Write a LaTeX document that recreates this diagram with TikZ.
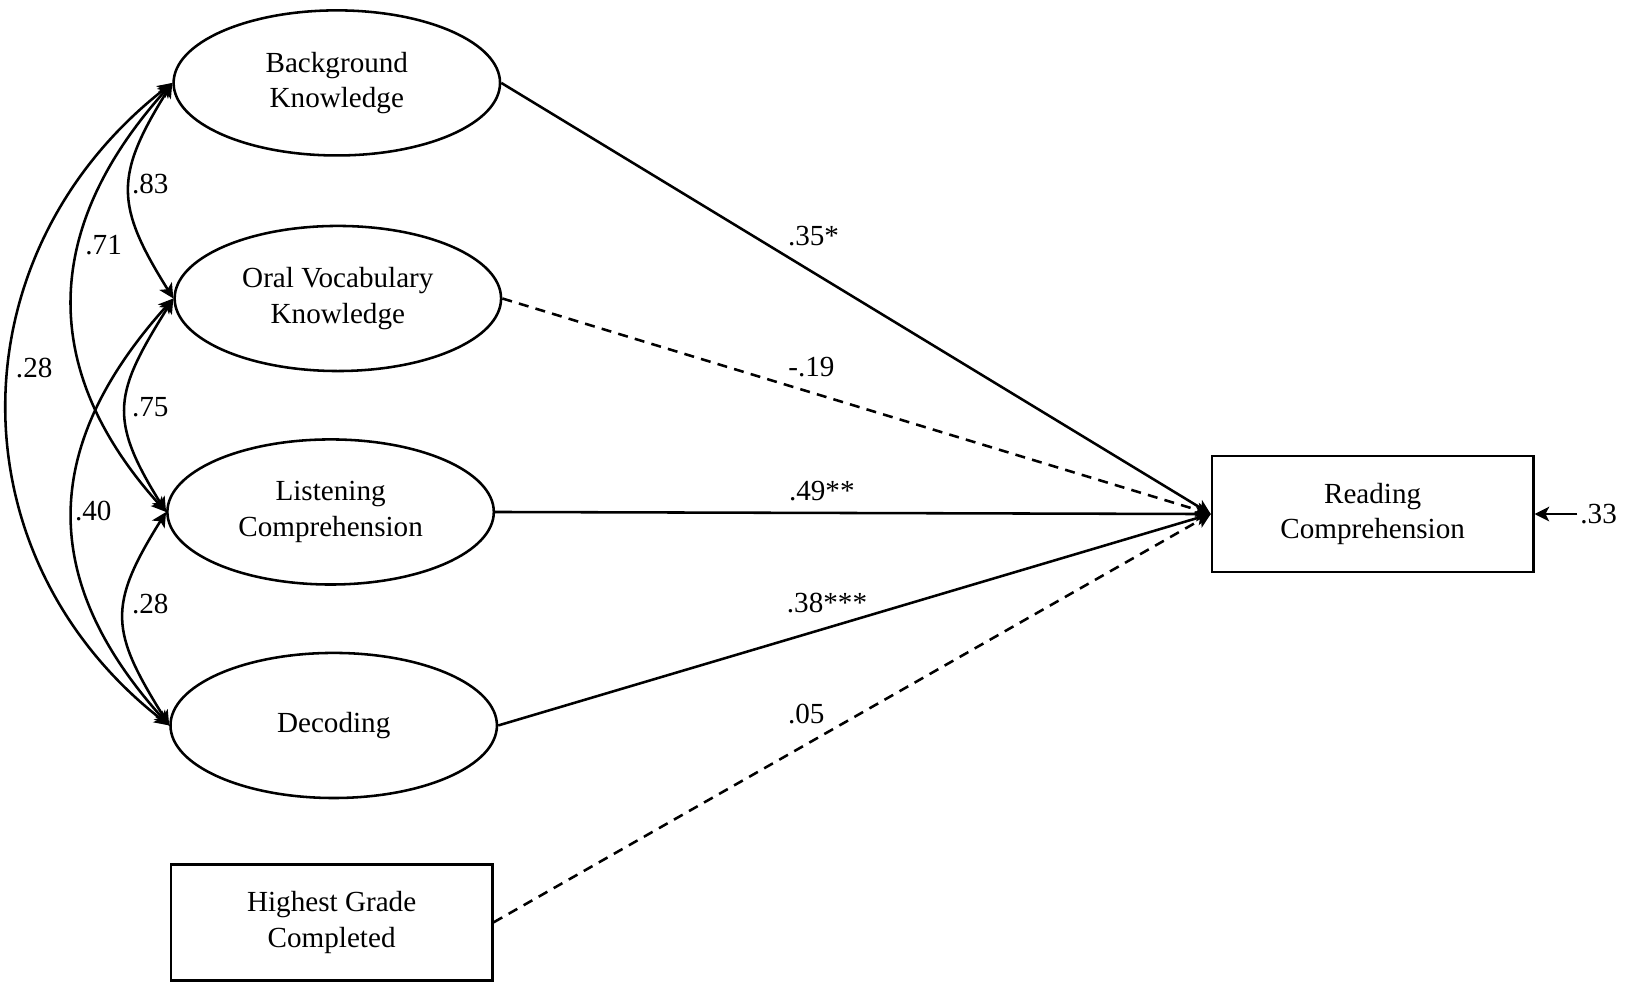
\documentclass[tikz,border=0pt]{standalone}
\usepackage{fontspec}
\setmainfont{Liberation Serif}
\usetikzlibrary{shapes,arrows.meta,positioning,calc}

\begin{document}
\begin{tikzpicture}[
    line width=1.4pt,
    >={Stealth[length=8pt,width=8pt,inset=2pt]},
    every node/.style={font=\fontsize{16}{19.5}\selectfont},
    factor/.style={draw, ellipse, minimum width=6.3cm, minimum height=2.8cm, align=center, inner sep=0pt},
    obs/.style={draw, rectangle, minimum width=6.2cm, minimum height=2.24cm, align=center},
    coef/.style={inner sep=1pt},
    path dashed/.style={dash pattern=on 5.5pt off 4pt}
]
    \useasboundingbox (0,0) rectangle (31.36,-18.95);

    % Predictors
    \node[factor] (bk)  at (6.5,-1.6)   {Background\\Knowledge};
    \node[factor] (ovk) at (6.52,-5.76) {Oral Vocabulary\\Knowledge};
    \node[factor] (lc)  at (6.38,-9.88) {Listening\\Comprehension};
    \node[factor] (dec) at (6.44,-14.0) {Decoding};
    \node[obs]    (hgc) at (6.4,-17.8)  {Highest Grade\\Completed};

    % Outcome and residual
    \node[obs] (rc)  at (26.49,-9.92) {Reading\\Comprehension};
    \node[coef, anchor=west] (res) at (30.44,-9.92) {.33};
    \draw[->] (res.west) -- (rc.east);

    % Correlations
    \draw[<->] (bk.west)  to[out=-122, in=122, looseness=1.3]  (ovk.west);
    \draw[<->] (ovk.west) to[out=-122, in=122, looseness=1.33] (lc.west);
    \draw[<->] (lc.west)  to[out=-122, in=122, looseness=1.33] (dec.west);
    \draw[<->] (bk.west)  to[out=-132, in=132, looseness=1.15] (lc.west);
    \draw[<->] (ovk.west) to[out=-132, in=132, looseness=1.18] (dec.west);
    \draw[<->] (bk.west)  to[out=-142, in=142, looseness=1.1]  (dec.west);

    \node[coef] (r1) at (2.9,-3.56)  {.83};
    \node[coef] (r2) at (2.0,-4.72)  {.71};
    \node[coef] (r3) at (0.66,-7.1)  {.28};
    \node[coef] (r4) at (2.9,-7.86)  {.75};
    \node[coef] (r5) at (1.8,-9.86)  {.40};
    \node[coef] (r6) at (2.9,-11.66) {.28};

    % Paths
    \draw[->] (bk.east) -- (rc.west);
    \draw[->, path dashed] (ovk.east) -- (rc.west);
    \draw[->] (lc.east) -- (rc.west);
    \draw[->] (dec.east) -- (rc.west);
    \draw[->, path dashed] (hgc.east) -- (rc.west);

    \node[coef] (b1) at (15.7,-4.56)  {.35*};
    \node[coef] (b2) at (15.66,-7.08) {-.19};
    \node[coef] (b3) at (15.86,-9.48) {.49**};
    \node[coef] (b4) at (15.96,-11.64) {.38***};
    \node[coef] (b5) at (15.56,-13.78) {.05};
\end{tikzpicture}
\end{document}
